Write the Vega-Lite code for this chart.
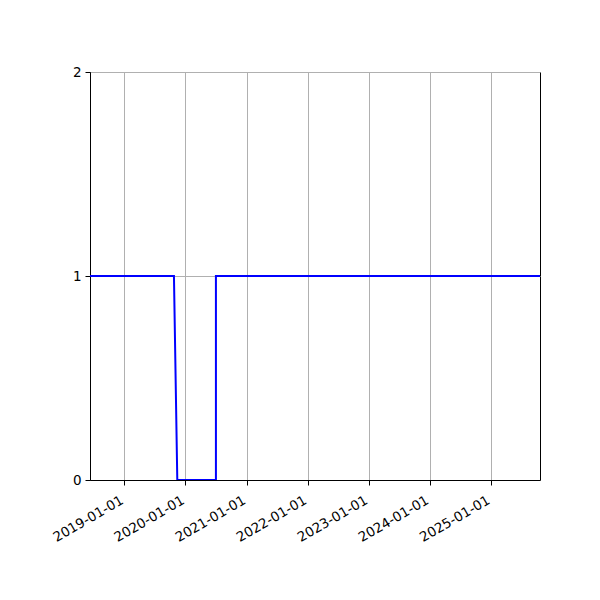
{
  "$schema": "https://vega.github.io/schema/vega-lite/v6.json",
  "width": 450,
  "height": 408,
  "autosize": {"type": "none"},
  "padding": {"left": 90, "top": 72, "right": 60, "bottom": 120},
  "background": "white",
  "config": {
    "view": {"stroke": "black", "strokeWidth": 1},
    "font": "DejaVu Sans",
    "axis": {
      "labelFont": "DejaVu Sans",
      "labelFontSize": 13.5,
      "labelColor": "black",
      "labelOverlap": false,
      "domainColor": "black",
      "tickColor": "black",
      "tickSize": 5,
      "gridColor": "#b0b0b0",
      "gridWidth": 1,
      "title": null
    }
  },
  "data": {
    "values": [
      {"i": 0, "date": "2018-06-09", "value": 1},
      {"i": 1, "date": "2019-10-24", "value": 1},
      {"i": 2, "date": "2019-11-13", "value": 0},
      {"i": 3, "date": "2020-07-01", "value": 0},
      {"i": 4, "date": "2020-07-01", "value": 1},
      {"i": 5, "date": "2025-10-21", "value": 1}
    ]
  },
  "mark": {"type": "line", "color": "#0000ff", "strokeWidth": 2, "clip": true},
  "encoding": {
    "x": {
      "field": "date",
      "type": "temporal",
      "scale": {"type": "utc", "domain": [{"year": 2018, "month": 6, "date": 9, "utc": true}, {"year": 2025, "month": 10, "date": 21, "utc": true}]},
      "axis": {
        "values": [
          {"year": 2019, "month": 1, "date": 1, "utc": true},
          {"year": 2020, "month": 1, "date": 1, "utc": true},
          {"year": 2021, "month": 1, "date": 1, "utc": true},
          {"year": 2022, "month": 1, "date": 1, "utc": true},
          {"year": 2023, "month": 1, "date": 1, "utc": true},
          {"year": 2024, "month": 1, "date": 1, "utc": true},
          {"year": 2025, "month": 1, "date": 1, "utc": true}
        ],
        "labelExpr": "utcFormat(datum.value, '%Y-%m-%d')",
        "labelAngle": -30,
        "labelAlign": "right",
        "labelBaseline": "top",
        "labelPadding": 8,
        "labelOffset": -6,
        "grid": true
      }
    },
    "y": {
      "field": "value",
      "type": "quantitative",
      "scale": {"domain": [0, 2], "nice": false},
      "axis": {"values": [0, 1, 2], "labelExpr": "format(datum.value, '.0f')", "grid": true, "labelPadding": 4}
    },
    "order": {"field": "i"}
  }
}
